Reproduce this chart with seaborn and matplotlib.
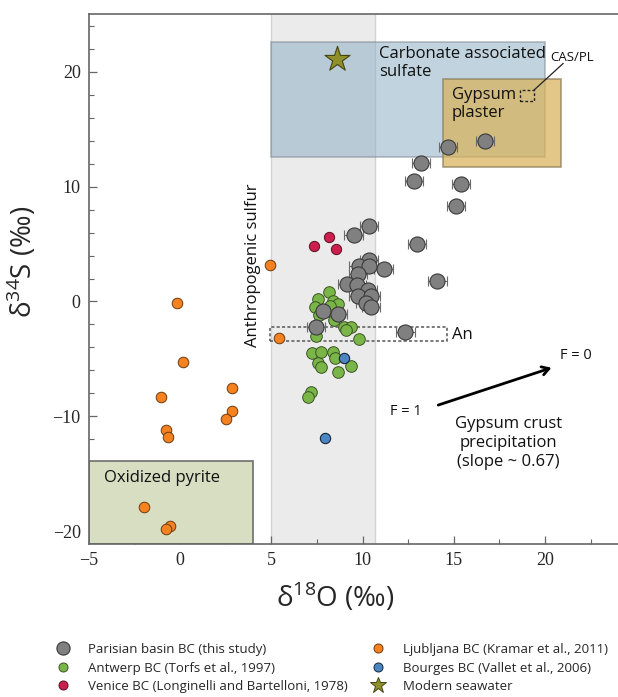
import numpy as np
import pandas as pd
import matplotlib
matplotlib.use("Agg")
import matplotlib.pyplot as plt
import seaborn as sns
from matplotlib.patches import Rectangle
from matplotlib.lines import Line2D
from matplotlib.ticker import MultipleLocator

# Parisian basin black crusts (this study), with d18O error bars
paris_x = [16.7, 14.7, 13.2, 12.8, 15.4, 15.1, 13.0, 11.15, 14.1, 10.33, 9.5,
           10.33, 9.78, 10.33, 9.73, 9.13, 9.67, 10.27, 9.73, 10.44, 10.16,
           10.44, 7.81, 8.63, 7.43, 12.35]
paris_y = [14.0, 13.5, 12.1, 10.5, 10.2, 8.3, 5.0, 2.8, 1.8, 6.6, 5.8,
           3.65, 3.05, 3.1, 2.4, 1.56, 1.48, 1.04, 0.45, 0.52, -0.1,
           -0.52, -0.87, -1.13, -2.2, -2.7]
paris_err = [0.5, 0.5, 0.5, 0.5, 0.5, 0.5, 0.5, 0.5, 0.5, 0.5, 0.5,
             0.5, 0.5, 0.5, 0.5, 0.5, 0.5, 0.5, 0.5, 0.5, 0.5,
             0.5, 0.5, 0.5, 0.5, 0.5]

antwerp_x = [8.14, 7.54, 8.36, 8.63, 7.38, 8.2, 7.6, 8.41, 9.0, 9.35, 9.1,
             7.43, 9.8, 7.2, 7.72, 8.4, 8.47, 7.54, 7.7, 9.35, 8.63, 7.16, 7.02]
antwerp_y = [0.8, 0.26, 0.0, -0.2, -0.5, -0.4, -1.15, -1.65, -2.2, -2.2, -2.45,
             -3.0, -3.3, -4.5, -4.4, -4.4, -4.9, -5.35, -5.7, -5.6, -6.1, -7.9, -8.3]

venice_x = [7.32, 8.14, 8.52]
venice_y = [4.87, 5.65, 4.6]

ljubljana_x = [4.92, 5.4, -0.16, 0.16, 2.84, -1.04, 2.84, 2.51, -0.77, -0.66,
               -1.97, -0.55, -0.77]
ljubljana_y = [3.2, -3.15, -0.17, -5.3, -7.5, -8.3, -9.5, -10.2, -11.2, -11.8,
               -17.9, -19.6, -19.8]

bourges_x = [8.96, 7.92]
bourges_y = [-4.96, -11.9]

seawater_x = [8.6]
seawater_y = [21.1]

sns.set_style("ticks")
plt.rcParams["font.family"] = ["Open Sans", "DejaVu Sans"]
plt.rcParams["mathtext.fontset"] = "custom"
plt.rcParams["mathtext.rm"] = "Open Sans"

fig = plt.figure(figsize=(6.18, 6.97), dpi=100)
ax = fig.add_axes([89 / 618, 1 - 544 / 697, 529 / 618, 530 / 697])
ax.set_xlim(-5, 24)
ax.set_ylim(-21.13, 25.05)

# shaded fields
ax.add_patch(Rectangle((5, -30), 5.66, 60, facecolor="#ebebeb", edgecolor="#d2d2d2", lw=1, zorder=0))
ax.add_patch(Rectangle((5, 12.6), 15, 10.0, facecolor="#8fb0c4", alpha=0.55, edgecolor="#7d8890", lw=1.2, zorder=1))
ax.add_patch(Rectangle((14.4, 11.7), 6.5, 7.7, facecolor="#d9b25a", alpha=0.72, edgecolor="#8a7a58", lw=1.2, zorder=1.1))
ax.add_patch(Rectangle((-5, -21.13), 9.0, 7.23, facecolor="#d8dec1", edgecolor="#6e6e6e", lw=1.2, zorder=1))
ax.add_patch(Rectangle((18.63, 17.48), 0.77, 0.95, facecolor="none", edgecolor="#222222", lw=1, ls=(0, (2, 1.5)), zorder=2))
ax.add_patch(Rectangle((4.9, -3.45), 9.7, 1.2, facecolor="none", edgecolor="#555555", lw=1.1, ls=(0, (2, 1.5)), zorder=2))
ax.plot([19.4, 21.0], [18.43, 20.75], color="#222222", lw=0.9, zorder=2)

ax.errorbar(paris_x, paris_y, xerr=paris_err, fmt="none", ecolor="#6a6a6a", elinewidth=0.8,
            capsize=3.6, capthick=0.8, zorder=3)
sns.scatterplot(x=ljubljana_x, y=ljubljana_y, ax=ax, s=58, color="#f5821f", edgecolor="#6b3a12", linewidth=0.7, zorder=4)
sns.scatterplot(x=antwerp_x, y=antwerp_y, ax=ax, s=70, color="#7ab547", edgecolor="#3b5425", linewidth=0.7, zorder=4)
sns.scatterplot(x=venice_x, y=venice_y, ax=ax, s=55, color="#cc1f4e", edgecolor="#5a1022", linewidth=0.7, zorder=4)
sns.scatterplot(x=bourges_x, y=bourges_y, ax=ax, s=55, color="#4b86c2", edgecolor="#15263a", linewidth=0.8, zorder=5)
sns.scatterplot(x=paris_x, y=paris_y, ax=ax, s=118, color="#808080", edgecolor="#3a3a3a", linewidth=0.8, zorder=5)
sns.scatterplot(x=seawater_x, y=seawater_y, ax=ax, s=360, marker="*", color="#8f8f2b", edgecolor="#45450f", linewidth=0.8, zorder=5)

# arrow for gypsum crust precipitation
ax.annotate("", xy=(20.5, -5.7), xytext=(14.0, -9.1),
            arrowprops=dict(arrowstyle="->,head_length=0.5,head_width=0.3", color="black", lw=2), zorder=6)

txt = dict(color="#111111", fontsize=12)
ax.text(4.0, 3.2, "Anthropogenic sulfur", rotation=90, ha="center", va="center", **txt)
ax.text(10.9, 22.3, "Carbonate associated\nsulfate", ha="left", va="top", linespacing=1.2, **txt)
ax.text(14.9, 18.7, "Gypsum\nplaster", ha="left", va="top", linespacing=1.2, **txt)
ax.text(20.3, 21.3, "CAS/PL", ha="left", va="center", color="#111111", fontsize=9.5)
ax.text(-1.0, -15.4, "Oxidized pyrite", ha="center", va="center", **txt)
ax.text(14.9, -2.9, "An", ha="left", va="center", **txt)
ax.text(12.35, -9.6, "F = 1", ha="center", va="center", color="#111111", fontsize=10.5)
ax.text(21.7, -4.7, "F = 0", ha="center", va="center", color="#111111", fontsize=10.5)
ax.text(18.0, -12.3, "Gypsum crust\nprecipitation\n(slope ~ 0.67)", ha="center", va="center",
        linespacing=1.25, **txt)

# axes styling
for side in ["left", "bottom", "top"]:
    ax.spines[side].set_color("#666666")
    ax.spines[side].set_linewidth(1.2)
ax.spines["right"].set_visible(False)
ax.xaxis.set_major_locator(MultipleLocator(5))
ax.xaxis.set_minor_locator(MultipleLocator(2.5))
ax.yaxis.set_major_locator(MultipleLocator(10))
ax.yaxis.set_minor_locator(MultipleLocator(2))
ax.tick_params(which="both", direction="in", color="#666666", top=False, right=False)
ax.tick_params(which="major", length=6, width=0.9, pad=6)
ax.tick_params(which="minor", length=3.5, width=0.8)
ax.set_xticks([-5, 0, 5, 10, 15, 20])
ax.set_xticklabels(["\u22125", "0", "5", "10", "15", "20"], fontfamily="Liberation Serif", fontsize=13)
ax.set_yticks([-20, -10, 0, 10, 20])
ax.set_yticklabels(["\u221220", "\u221210", "0", "10", "20"], fontfamily="Liberation Serif", fontsize=13)

fig.text(335 / 618, 1 - 597 / 697, r"δ$^{\mathregular{18}}$O (‰)", ha="center", va="center", fontsize=20)
fig.text(22 / 618, 1 - 262 / 697, r"δ$^{\mathregular{34}}$S (‰)", ha="center", va="center",
         rotation=90, fontsize=20)

# legend
handles = [
    Line2D([], [], ls="none", marker="o", ms=9.5, mfc="#808080", mec="#3a3a3a", mew=0.8),
    Line2D([], [], ls="none", marker="o", ms=6.5, mfc="#7ab547", mec="#3b5425", mew=0.7),
    Line2D([], [], ls="none", marker="o", ms=6.5, mfc="#cc1f4e", mec="#5a1022", mew=0.7),
    Line2D([], [], ls="none", marker="o", ms=6.5, mfc="#f5821f", mec="#6b3a12", mew=0.7),
    Line2D([], [], ls="none", marker="o", ms=6.5, mfc="#4b86c2", mec="#15263a", mew=0.7),
    Line2D([], [], ls="none", marker="*", ms=12, mfc="#8f8f2b", mec="#45450f", mew=0.7),
]
labels = ["Parisian basin BC (this study)", "Antwerp BC (Torfs et al., 1997)",
          "Venice BC (Longinelli and Bartelloni, 1978)", "Ljubljana BC (Kramar et al., 2011)",
          "Bourges BC (Vallet et al., 2006)", "Modern seawater"]
fig.legend(handles, labels, loc="upper left", bbox_to_anchor=(50 / 618, 1 - 643 / 697), ncol=2,
           frameon=False, fontsize=9.5, borderpad=0, borderaxespad=0, handlelength=2,
           handletextpad=0.85, labelspacing=0.42, columnspacing=1.35)

fig.savefig("out.png", dpi=100)
